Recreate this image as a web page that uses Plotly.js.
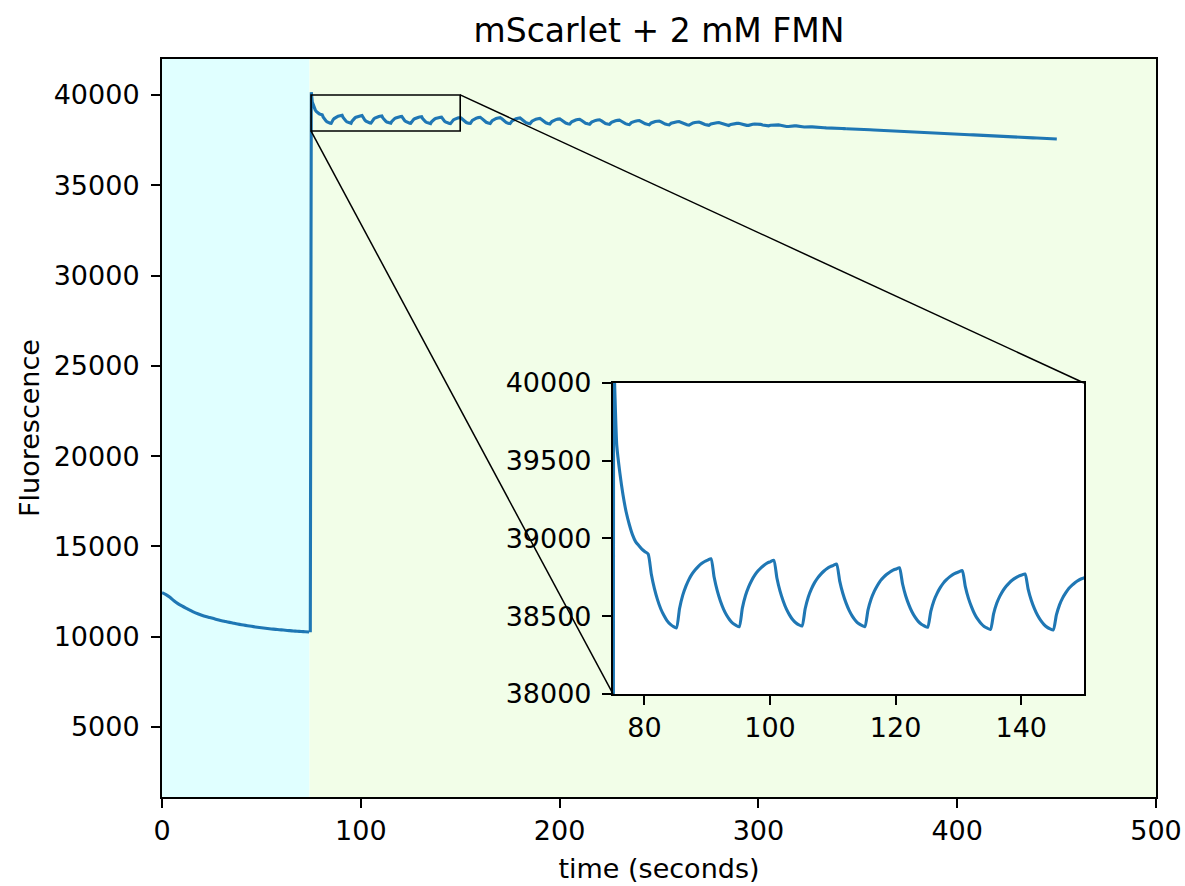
<!DOCTYPE html>
<html>
<head>
<meta charset="utf-8">
<script src="https://cdn.plot.ly/plotly-3.0.1.min.js"></script>
<style>
html, body { margin: 0; padding: 0; background: #ffffff; }
#chart { width: 1185px; height: 886px; }
</style>
</head>
<body>
<div id="chart"></div>
<script>
// ---------------- text ----------------
const chartTitle = 'mScarlet + 2 mM FMN';
const xLabel = 'time (seconds)';
const yLabel = 'Fluorescence';

// ---------------- data ----------------
// Dark phase, sampled every 2 s from t = 0 to 74 s
const darkStart = 0;
const darkStep = 2;
const darkValues = [
  12437, 12330, 12180, 11990, 11830, 11700, 11580, 11470, 11360, 11270,
  11190, 11120, 11060, 11000, 10940, 10880, 10835, 10790, 10745, 10700,
  10660, 10625, 10590, 10555, 10520, 10490, 10465, 10440, 10415, 10395,
  10375, 10355, 10335, 10315, 10300, 10285, 10270, 10255
];

// Jump and first pulses, sampled every 0.5 s from t = 74.6 to 150.1 s
const pulseStart = 74.6;
const pulseStep = 0.5;
const pulseValues = [
  10250, 40150, 39600, 39420, 39280, 39170, 39090, 39025, 38980, 38955, 38932, 38915, 38900,
  38772, 38677, 38605, 38548, 38506, 38472, 38449, 38434, 38425,
  38550, 38634, 38692, 38737, 38772, 38799, 38821, 38839, 38852, 38861, 38870,
  38752, 38664, 38598, 38546, 38506, 38476, 38454, 38441, 38432,
  38552, 38633, 38689, 38732, 38766, 38792, 38813, 38830, 38843, 38851, 38860,
  38746, 38661, 38598, 38547, 38509, 38479, 38458, 38445, 38437,
  38548, 38624, 38676, 38716, 38747, 38771, 38791, 38807, 38819, 38827, 38835,
  38726, 38646, 38586, 38538, 38501, 38473, 38453, 38441, 38433,
  38539, 38611, 38660, 38698, 38729, 38751, 38770, 38785, 38797, 38804, 38812,
  38709, 38632, 38575, 38529, 38494, 38467, 38448, 38437, 38429,
  38531, 38600, 38647, 38684, 38713, 38735, 38753, 38768, 38778, 38786, 38793,
  38691, 38615, 38559, 38513, 38479, 38453, 38434, 38423, 38415,
  38515, 38583, 38629, 38665, 38693, 38715, 38733, 38747, 38758, 38765, 38772,
  38675, 38603, 38549, 38506, 38473, 38448, 38430, 38419, 38412,
  38508, 38573, 38618, 38652, 38680, 38700, 38717, 38731, 38741, 38748
];

// Later pulses, sampled every 1 s from t = 150.1 to 344.1 s
const laterStart = 150.1;
const laterStep = 1;
const laterValues = [
  38748, 38662, 38542, 38470, 38429,
  38428, 38588, 38666, 38714, 38744, 38761, 38676, 38557, 38486, 38445,
  38421, 38576, 38652, 38698, 38728, 38744, 38662, 38546, 38477, 38437,
  38414, 38563, 38635, 38679, 38707, 38723, 38644, 38534, 38468, 38430,
  38405, 38546, 38615, 38657, 38684, 38699, 38624, 38519, 38456, 38420,
  38394, 38528, 38594, 38634, 38660, 38674, 38603, 38503, 38443, 38409,
  38385, 38512, 38574, 38612, 38636, 38650, 38582, 38488, 38431, 38398,
  38376, 38496, 38555, 38591, 38614, 38626, 38563, 38473, 38420, 38389,
  38368, 38481, 38536, 38570, 38591, 38603, 38543, 38459, 38409, 38380,
  38359, 38465, 38517, 38549, 38569, 38580, 38524, 38445, 38398, 38371,
  38350, 38449, 38497, 38526, 38545, 38556, 38503, 38430, 38386, 38360,
  38342, 38431, 38475, 38502, 38519, 38528, 38481, 38414, 38374, 38351,
  38333, 38413, 38452, 38476, 38491, 38500, 38457, 38398, 38362, 38341,
  38321, 38391, 38426, 38447, 38461, 38468, 38431, 38378, 38346, 38328,
  38309, 38368, 38397, 38415, 38426, 38432, 38401, 38357, 38331, 38316,
  38315, 38359, 38379, 38390, 38396, 38398, 38370, 38331, 38306, 38290,
  38289, 38320, 38333, 38339, 38340, 38340, 38316, 38285, 38265, 38251,
  38256, 38274, 38282, 38284, 38284, 38282, 38265, 38242, 38227, 38216,
  38220, 38229, 38231, 38229, 38227, 38223, 38211, 38195, 38183, 38174,
  38175, 38178, 38176, 38172, 38168, 38164, 38155, 38145, 38136, 38129
];

// Tail, sampled every 2 s from t = 344.1 to 450.1 s
const tailStart = 344.1;
const tailStep = 2;
const tailValues = [
  38129, 38126, 38114, 38106, 38093, 38084, 38070, 38062, 38049, 38041,
  38030, 38015, 38008, 37997, 37984, 37977, 37964, 37951, 37944, 37930,
  37922, 37911, 37898, 37889, 37874, 37867, 37855, 37842, 37832, 37819,
  37811, 37798, 37789, 37775, 37768, 37754, 37745, 37733, 37723, 37711,
  37702, 37688, 37680, 37667, 37659, 37646, 37637, 37624, 37616, 37603,
  37594, 37580, 37572, 37560
];

// Shaded phases (dark / light)
const darkPhase = [0, 74.2];
const lightPhase = [74.2, 500];

// Axes
const xRange = [0, 500];
const yRange = [1120, 41990];
const xTicks = [0, 100, 200, 300, 400, 500];
const yTicks = [5000, 10000, 15000, 20000, 25000, 30000, 35000, 40000];
const insetXRange = [75, 150];
const insetYRange = [38000, 40000];
const insetXTicks = [80, 100, 120, 140];
const insetYTicks = [38000, 38500, 39000, 39500, 40000];

// ---------------- styling ----------------
const lineColor = '#1f77b4';
const font = 'DejaVu Sans, Liberation Sans, sans-serif';
const tickSize = 27;
const insetDomX = [0.4537, 0.9276];
const insetDomY = [0.1396, 0.561];

const segments = [
  [darkStart, darkStep, darkValues, 'spline'],
  [pulseStart, pulseStep, pulseValues, 'linear'],
  [laterStart, laterStep, laterValues, 'linear'],
  [tailStart, tailStep, tailValues, 'linear']
];

const traces = [];
segments.forEach(function (s) {
  traces.push({ type: 'scatter', mode: 'lines', x0: s[0], dx: s[1], y: s[2],
    xaxis: 'x', yaxis: 'y', line: { color: lineColor, width: 3.1, shape: s[3], smoothing: 0.8 },
    hoverinfo: 'skip', showlegend: false });
});
segments.slice(1, 3).forEach(function (s) {
  traces.push({ type: 'scatter', mode: 'lines', x0: s[0], dx: s[1], y: s[2],
    xaxis: 'x2', yaxis: 'y2', line: { color: lineColor, width: 3.1, shape: 'spline', smoothing: 0.6 },
    hoverinfo: 'skip', showlegend: false });
});

function fx(v) { return (v - xRange[0]) / (xRange[1] - xRange[0]); }
function fy(v) { return (v - yRange[0]) / (yRange[1] - yRange[0]); }

const axisCommon = {
  ticks: 'outside', ticklen: 9, tickwidth: 2, tickcolor: '#000',
  showline: true, mirror: true, linecolor: '#000', linewidth: 2,
  showgrid: false, zeroline: false, tickformat: 'd',
  tickfont: { family: font, size: tickSize, color: '#000' }
};

const layout = {
  width: 1185, height: 886,
  margin: { l: 162, r: 29, t: 59, b: 89 },
  paper_bgcolor: '#ffffff',
  plot_bgcolor: '#ffffff',
  font: { family: font, color: '#000' },
  title: { text: chartTitle, x: 0.5, xref: 'paper', xanchor: 'center',
    y: 1 - 30 / 886, yref: 'container', yanchor: 'middle',
    font: { family: font, size: 33, color: '#000' } },
  xaxis: Object.assign({}, axisCommon, { range: xRange, domain: [0, 1], anchor: 'y',
    tickmode: 'array', tickvals: xTicks,
    title: { text: xLabel, standoff: 14, font: { family: font, size: tickSize, color: '#000' } } }),
  yaxis: Object.assign({}, axisCommon, { range: yRange, domain: [0, 1], anchor: 'x',
    tickmode: 'array', tickvals: yTicks, ticklabelstandoff: 6,
    title: { text: yLabel, standoff: 6, font: { family: font, size: tickSize, color: '#000' } } }),
  xaxis2: Object.assign({}, axisCommon, { range: insetXRange, domain: insetDomX, anchor: 'y2',
    tickmode: 'array', tickvals: insetXTicks }),
  yaxis2: Object.assign({}, axisCommon, { range: insetYRange, domain: insetDomY, anchor: 'x2',
    tickmode: 'array', tickvals: insetYTicks, ticklabelstandoff: 5 }),
  shapes: [
    { type: 'rect', xref: 'x', yref: 'y', x0: darkPhase[0], x1: darkPhase[1], y0: yRange[0], y1: yRange[1],
      fillcolor: '#e0ffff', line: { width: 0 }, layer: 'below' },
    { type: 'rect', xref: 'x', yref: 'y', x0: lightPhase[0], x1: lightPhase[1], y0: yRange[0], y1: yRange[1],
      fillcolor: '#f2fee8', line: { width: 0 }, layer: 'below' },
    { type: 'rect', xref: 'x', yref: 'y', x0: insetXRange[0], x1: insetXRange[1], y0: insetYRange[0], y1: insetYRange[1],
      line: { color: '#000', width: 1.6 }, layer: 'above' },
    { type: 'line', xref: 'paper', yref: 'paper',
      x0: fx(insetXRange[1]), y0: fy(insetYRange[1]), x1: insetDomX[1], y1: insetDomY[1],
      line: { color: '#000', width: 1.5 }, layer: 'above' },
    { type: 'line', xref: 'paper', yref: 'paper',
      x0: fx(insetXRange[0]), y0: fy(insetYRange[0]), x1: insetDomX[0], y1: insetDomY[0],
      line: { color: '#000', width: 1.5 }, layer: 'above' }
  ]
};

Plotly.newPlot('chart', traces, layout, { displayModeBar: false, staticPlot: true });
</script>
</body>
</html>
